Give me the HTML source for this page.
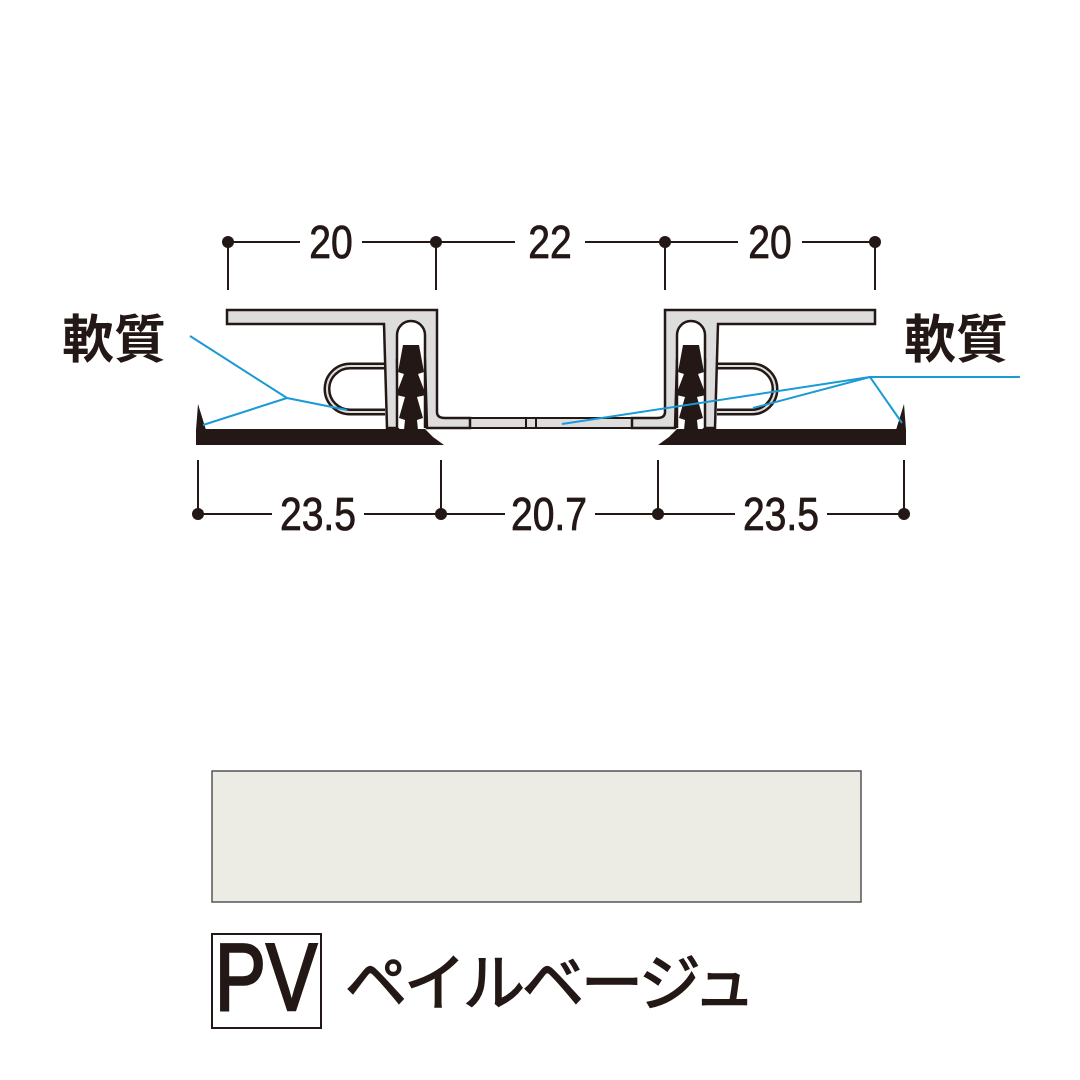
<!DOCTYPE html>
<html><head><meta charset="utf-8"><style>
html,body{margin:0;padding:0;background:#fff;width:1080px;height:1080px;overflow:hidden}
</style></head><body>
<svg width="1080" height="1080" viewBox="0 0 1080 1080" xmlns="http://www.w3.org/2000/svg">
<rect width="1080" height="1080" fill="#fff"/>
<g stroke="#231815" stroke-width="2" fill="none">
<line x1="228" y1="242" x2="875" y2="242"/>
<line x1="228" y1="242" x2="228" y2="290"/>
<line x1="436" y1="242" x2="436" y2="290"/>
<line x1="665" y1="242" x2="665" y2="290"/>
<line x1="875" y1="242" x2="875" y2="290"/>
<line x1="198" y1="514" x2="904" y2="514"/>
<line x1="198" y1="514" x2="198" y2="460"/>
<line x1="441" y1="514" x2="441" y2="460"/>
<line x1="658" y1="514" x2="658" y2="460"/>
<line x1="904" y1="514" x2="904" y2="460"/>
</g>
<g fill="#231815">
<circle cx="228" cy="242" r="6"/><circle cx="436" cy="242" r="6"/><circle cx="665" cy="242" r="6"/><circle cx="875" cy="242" r="6"/>
<circle cx="198" cy="514" r="6"/><circle cx="441" cy="514" r="6"/><circle cx="658" cy="514" r="6"/><circle cx="904" cy="514" r="6"/>
</g>
<g font-family="Liberation Sans, sans-serif" font-size="46" fill="#231815" stroke="#231815" stroke-width="0.8" text-anchor="middle">
<rect x="300" y="220" width="62" height="44" fill="#fff" stroke="none"/>
<rect x="515" y="220" width="70" height="44" fill="#fff" stroke="none"/>
<rect x="738" y="220" width="64" height="44" fill="#fff" stroke="none"/>
<rect x="272" y="492" width="92" height="44" fill="#fff" stroke="none"/>
<rect x="505" y="492" width="90" height="44" fill="#fff" stroke="none"/>
<rect x="735" y="492" width="92" height="44" fill="#fff" stroke="none"/>
<text x="331" y="258" transform="translate(331,0) scale(0.85,1) translate(-331,0)">20</text>
<text x="550" y="258" transform="translate(550,0) scale(0.85,1) translate(-550,0)">22</text>
<text x="770" y="258" transform="translate(770,0) scale(0.85,1) translate(-770,0)">20</text>
<text x="318" y="530" transform="translate(318,0) scale(0.85,1) translate(-318,0)">23.5</text>
<text x="549" y="530" transform="translate(549,0) scale(0.85,1) translate(-549,0)">20.7</text>
<text x="781" y="530" transform="translate(781,0) scale(0.85,1) translate(-781,0)">23.5</text>
</g>
<rect x="430" y="418" width="240" height="10" fill="#ddd" stroke="#231815" stroke-width="2"/>
<line x1="526" y1="418" x2="526" y2="428" stroke="#231815" stroke-width="2"/>
<line x1="536" y1="418" x2="536" y2="428" stroke="#231815" stroke-width="2"/>
<defs>
<g id="half">
<path d="M385,366 L350,366 A23,23 0 0 0 350,412 L385,412" fill="none" stroke="#231815" stroke-width="7"/>
<path d="M385,366 L350,366 A23,23 0 0 0 350,412 L385,412" fill="none" stroke="#ddd" stroke-width="2"/>
<path d="M227,310 L437,310 L437,412 Q437,418 445,418 L470,418 L470,428 L427,428 L425,360 L397,360 L398,428 L387,428 L384,324 L227,324 Z" fill="#ddd" stroke="#231815" stroke-width="2.5"/>
<path d="M397,428 L397,335 A14,14 0 0 1 425,335 L425,428" fill="#fff" stroke="#231815" stroke-width="2.5"/>
<path d="M403,345 L419,345 L424,372 L418,374 L426,395 L417,397 L423,418 L417,420 L418,430 L404,430 L405,420 L399,418 L405,397 L396,395 L404,374 L398,372 Z" fill="#231815"/>
<path d="M196,429 L425,429 L433,437 L444,445 L196,445 Z" fill="#231815"/>
<path d="M196,430 L198,404 L206,430 Z" fill="#231815"/>
</g>
</defs>
<use href="#half"/>
<use href="#half" transform="translate(1102,0) scale(-1,1)"/>
<g stroke="#1a9ad6" stroke-width="2" fill="none">
<polyline points="190,336 287,398 347,410"/>
<line x1="287" y1="398" x2="203" y2="425"/>
<polyline points="1020,377 870,377 562,424"/>
<line x1="870" y1="377" x2="753" y2="408"/>
<line x1="870" y1="377" x2="902" y2="423"/>
</g>
<g font-family="Liberation Sans, 'Noto Sans CJK JP', sans-serif" font-size="52" font-weight="bold" fill="#231815">
<text x="62" y="358">軟質</text>
<text x="904" y="358">軟質</text>
</g>
<rect x="212" y="771" width="649" height="131" fill="#ecebe4" stroke="#555" stroke-width="1.5"/>
<rect x="212" y="934" width="109" height="94" fill="none" stroke="#231815" stroke-width="2"/>
<text x="266" y="1010" text-anchor="middle" font-family="Liberation Sans, sans-serif" font-size="96" fill="#231815" stroke="#231815" stroke-width="2.5" transform="translate(266,0) scale(0.8,1) translate(-266,0)">PV</text>
<text x="345" y="1005" font-family="Liberation Sans, 'Noto Sans CJK JP', sans-serif" font-size="62" fill="#231815" stroke="#231815" stroke-width="1.5" letter-spacing="-3">ペイルベージュ</text>
</svg>
</body></html>
